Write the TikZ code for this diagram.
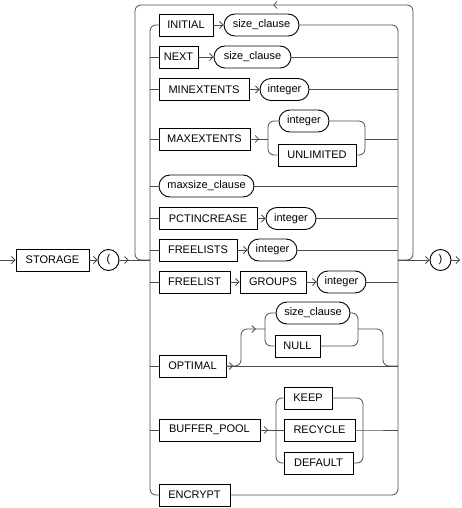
\documentclass[tikz,border=0pt]{standalone}
\usepackage{fontspec}
\setmainfont{Liberation Sans}
\usepackage{tikz}
\usetikzlibrary{arrows.meta}
\usetikzlibrary{shapes.misc}
\usetikzlibrary{decorations.markings}

\begin{document}
\begin{tikzpicture}[x=1pt, y=-1pt, font=\fontsize{11}{13}\selectfont,
	>={Straight Barb[length=3.5pt, width=7pt]},
	kw/.style={draw, line width=0.9pt, rectangle, minimum height=22, inner sep=1pt},
	nt/.style={draw, line width=0.9pt, rounded rectangle, minimum height=22, inner sep=1pt},
	paren/.style={draw, line width=0.9pt, circle, minimum size=21, inner sep=0pt},
	rail/.style={draw=black!70, line width=0.8pt, rounded corners=6},
	marr/.style={decoration={markings, mark=at position #1 with {\arrow{>}}}, postaction={decorate}}]
		\useasboundingbox (0,0) rectangle (461,508);

		\coordinate (start) at (0,260);
		\coordinate (finish) at (460,260);
		\coordinate (lj) at (150,260);
		\coordinate (rj) at (398,260);
		\coordinate (lk) at (135,260);
		\coordinate (rk) at (413,260);
		\coordinate (loopm) at (273,5);
		\coordinate (lb) at (150,495);
		\coordinate (rb) at (398,495);

		\node[kw, minimum width=73] (storage) at (52.5,260) {STORAGE};
		\node[paren] (lparen) at (108.5,260) {(};
		\node[paren] (rparen) at (440.5,260) {)};

		\node[kw, minimum width=54] (initial) at (186,25) {INITIAL};
		\node[nt, minimum width=77] (sc1) at (261.5,25) {size\_clause};
		\node[kw, minimum width=39] (next) at (178.5,57) {NEXT};
		\node[nt, minimum width=79] (sc2) at (252.5,57) {size\_clause};
		\node[kw, minimum width=90] (minext) at (204,89.5) {MINEXTENTS};
		\node[nt, minimum width=51] (minint) at (284.5,89.5) {integer};
		\node[kw, minimum width=91] (maxext) at (204.5,139) {MAXEXTENTS};
		\node[nt, minimum width=52] (maxint) at (304,121) {integer};
		\node[kw, minimum width=78] (unlim) at (317,155) {UNLIMITED};
		\node[nt, minimum width=97] (maxsize) at (206.5,186) {maxsize\_clause};
		\node[kw, minimum width=98] (pctinc) at (208,218.5) {PCTINCREASE};
		\node[nt, minimum width=52] (pctint) at (291,218.5) {integer};
		\node[kw, minimum width=78] (freelists) at (198,250) {FREELISTS};
		\node[nt, minimum width=51] (flsint) at (272.5,250) {integer};
		\node[kw, minimum width=71] (freelist) at (194.5,282) {FREELIST};
		\node[kw, minimum width=66] (groups) at (273,282) {GROUPS};
		\node[nt, minimum width=51] (flint) at (341.5,282) {integer};
		\node[kw, minimum width=67] (optimal) at (192.5,366) {OPTIMAL};
		\node[nt, minimum width=76] (sc3) at (313,313) {size\_clause};
		\node[kw, minimum width=45] (null) at (297.5,346) {NULL};
		\node[kw, minimum width=101] (bufpool) at (209.5,430) {BUFFER\_POOL};
		\node[kw, minimum width=48] (keep) at (308,398) {KEEP};
		\node[kw, minimum width=71] (recycle) at (319.5,430) {RECYCLE};
		\node[kw, minimum width=69] (default) at (318.5,463) {DEFAULT};
		\node[kw, minimum width=71] (encrypt) at (194.5,495) {ENCRYPT};

		\coordinate (mxl) at (268,139);
		\coordinate (mxr) at (365,139);
		\coordinate (opa) at (241,366);
		\coordinate (opb) at (383,366);
		\coordinate (opl) at (265,329);
		\coordinate (opr) at (358,329);
		\coordinate (bpl) at (276,430);
		\coordinate (bpr) at (363,430);

		\draw[rail, ->] (start) -- (storage);
		\draw[rail, ->] (storage) -- (lparen);
		\draw[rail, marr=0.3] (lparen) -- (lj);
		\draw[rail, ->] (rj) -- (rparen);
		\draw[rail, ->] (rparen) -- (finish);
		\draw[rail, ->] (rj) -- (rk) |- (loopm);
		\draw[rail] (loopm) -| (lk) -- (lj);

		\draw[rail] (initial.west) -| (lb) -- (encrypt.west);
		\draw[rail] (sc1.east) -| (rb) -- (encrypt.east);
		\foreach \n in {next,minext,maxext,maxsize,pctinc,freelists,freelist,optimal,bufpool}
			\draw[rail] (\n.west -| lb) -- (\n.west);
		\foreach \n in {sc2,minint,maxsize,pctint,flsint,flint}
			\draw[rail] (\n.east) -- (\n.east -| rb);

		\draw[rail, ->] (initial) -- (sc1);
		\draw[rail, ->] (next) -- (sc2);
		\draw[rail, ->] (minext) -- (minint);
		\draw[rail, ->] (pctinc) -- (pctint);
		\draw[rail, ->] (freelists) -- (flsint);
		\draw[rail, ->] (freelist) -- (groups);
		\draw[rail, ->] (groups) -- (flint);

		\draw[rail, marr=0.5] (maxext) -- (mxl);
		\draw[rail] (maxint.west) -| (mxl) |- (unlim.west);
		\draw[rail] (maxint.east) -| (mxr) |- (unlim.east);
		\draw[rail] (mxr) -- (mxr -| rb);

		\draw[rail, marr=0.04] (optimal) -- (optimal.east -| rb);
		\draw[rail, marr=0.87] (optimal.east) -- (opa) |- (opl);
		\draw[rail] (sc3.west) -| (opl) |- (null.west);
		\draw[rail] (sc3.east) -| (opr) |- (null.east);
		\draw[rail] (opr) -| (opb) -- (optimal.east -| rb);

		\draw[rail, marr=0.5] (bufpool) -- (bpl);
		\draw[rail] (bpl) -- (recycle);
		\draw[rail] (keep.west) -| (bpl) |- (default.west);
		\draw[rail] (keep.east) -| (bpr) |- (default.east);
		\draw[rail] (recycle) -- (bpr) -- (bpr -| rb);
\end{tikzpicture}
\end{document}
